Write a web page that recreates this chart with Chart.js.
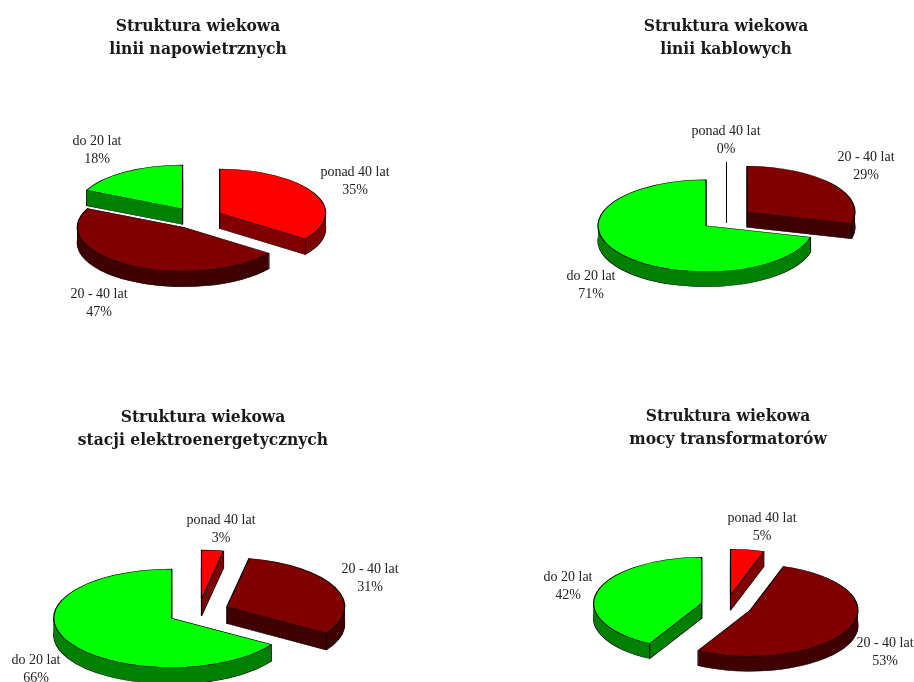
<!DOCTYPE html>
<html lang="pl">
<head>
<meta charset="utf-8">
<title>Struktura wiekowa</title>
<style>
html,body{margin:0;padding:0;background:#fff;width:914px;height:682px;overflow:hidden;position:relative}
canvas{position:absolute}
</style>
<script src="https://cdn.jsdelivr.net/npm/chart.js@4"></script>
</head>
<body>
<script>
// ---- data ----
const categories = ['ponad 40 lat', '20 - 40 lat', 'do 20 lat'];
const liniiNapowietrznych = [35, 47, 18];
const liniiKablowych = [0, 29, 71];
const stacjiElektro = [3, 31, 66];
const mocyTransformatorow = [5, 53, 42];
const title1 = ['Struktura wiekowa', 'linii napowietrznych'];
const title2 = ['Struktura wiekowa', 'linii kablowych'];
const title3 = ['Struktura wiekowa', 'stacji elektroenergetycznych'];
const title4 = ['Struktura wiekowa', 'mocy transformatorów'];

// ---- styles ----
const topColors = ['#FF0000', '#800000', '#00FF00'];
const wallColors = ['#800000', '#400000', '#008000'];
const TITLE_FONT = {family: '"DejaVu Serif Condensed","DejaVu Serif",serif', size: 17.3, weight: 'bold', lineHeight: 23 / 17.3};
const LABEL_FONT = '14px "Liberation Serif",serif';

// ---- layout (page pixels) ----
const panels = [
  {values: liniiNapowietrznych, title: title1, titleX: 198, titleY: 26, cx: 196.5, cy: 218, radius: 106, ratio: .415, explode: 26, depth: 15.5,
   labels: [[355, 172], [99, 294], [97, 141]]},
  {values: liniiKablowych, title: title2, titleX: 726, titleY: 26, cx: 726.5, cy: 219, radius: 108, ratio: .426, explode: 26, depth: 15,
   labels: [[726, 131], [866, 157], [591, 276]]},
  {values: stacjiElektro, title: title3, titleX: 203, titleY: 417, cx: 198.6, cy: 612, radius: 118, ratio: .417, explode: 30.7, depth: 16.7,
   labels: [[221, 520], [370, 569], [36, 660]]},
  {values: mocyTransformatorow, title: title4, titleX: 727.5, titleY: 416, cx: 726.5, cy: 606, radius: 108, ratio: .426, explode: 25.6, depth: 15,
   labels: [[762, 518], [885, 643], [568, 577]]}
];
const CANVAS_W = 470, CANVAS_H = 330, LINE_H = 18;

const pie3d = {
  id: 'pie3d',
  beforeDatasetsDraw(chart) {
    const p = chart.options.plugins.pie3d.panel;
    const ctx = chart.ctx;
    const arcs = chart.getDatasetMeta(0).data;
    const left = chart.canvas.offsetLeft, top = chart.canvas.offsetTop;
    const ax = arcs[0].x, ay = arcs[0].y;
    const sx = p.cx - left - ax, sy = p.cy - top - ay;
    const enter = (arc, d) => {
      const mid = (arc.startAngle + arc.endAngle) / 2;
      ctx.save();
      ctx.translate(sx + ax, sy + ay + d);
      ctx.scale(1, p.ratio);
      ctx.translate(-ax + Math.cos(mid) * p.explode, -ay + Math.sin(mid) * p.explode);
    };
    const paint = (arc, o) => {
      const el = Object.create(arc);
      el.options = Object.assign({}, arc.options, o);
      el.draw(ctx);
    };
    const point = (arc, angle, r) => {
      const mid = (arc.startAngle + arc.endAngle) / 2;
      return {
        x: sx + ax + Math.cos(mid) * p.explode + Math.cos(angle) * r,
        y: sy + ay + (Math.sin(mid) * p.explode + Math.sin(angle) * r) * p.ratio
      };
    };
    const vertical = a => {
      ctx.beginPath();
      ctx.moveTo(a.x, a.y);
      ctx.lineTo(a.x, a.y + p.depth);
      ctx.stroke();
    };
    // walls
    arcs.forEach((arc, i) => {
      if (arc.circumference === 0) return;
      enter(arc, p.depth);
      paint(arc, {backgroundColor: wallColors[i]});
      ctx.restore();
      for (let d = p.depth - .5; d > 0; d -= .5) {
        enter(arc, d);
        paint(arc, {backgroundColor: wallColors[i], borderWidth: 0});
        ctx.restore();
      }
      ctx.save();
      ctx.strokeStyle = '#000';
      ctx.lineWidth = 1;
      vertical(point(arc, arc.startAngle, arc.outerRadius));
      vertical(point(arc, arc.endAngle, arc.outerRadius));
      vertical(point(arc, arc.startAngle, 0));
      ctx.restore();
    });
    // tops
    arcs.forEach((arc, i) => {
      if (arc.circumference === 0) {
        // an empty slice shows only as its edge
        const a = point(arc, arc.startAngle, arc.outerRadius);
        const b = point(arc, arc.startAngle, 0);
        ctx.save();
        ctx.strokeStyle = '#000';
        ctx.lineWidth = 1;
        ctx.beginPath();
        ctx.moveTo(a.x, a.y);
        ctx.lineTo(b.x, b.y + p.depth);
        ctx.stroke();
        ctx.restore();
        return;
      }
      enter(arc, 0);
      paint(arc, {backgroundColor: topColors[i]});
      ctx.restore();
    });
    // labels
    ctx.save();
    ctx.font = LABEL_FONT;
    ctx.fillStyle = '#222';
    ctx.textAlign = 'center';
    ctx.textBaseline = 'middle';
    const total = p.values.reduce((s, v) => s + v, 0);
    p.labels.forEach((pos, i) => {
      ctx.fillText(categories[i], pos[0] - left, pos[1] - top);
      ctx.fillText(Math.round(p.values[i] / total * 100) + '%', pos[0] - left, pos[1] - top + LINE_H);
    });
    ctx.restore();
    return false;
  }
};

panels.forEach(p => {
  const c = document.createElement('canvas');
  const left = p.titleX - CANVAS_W / 2;
  const top = p.titleY - 11.5;
  c.style.left = left + 'px';
  c.style.top = top + 'px';
  c.style.width = CANVAS_W + 'px';
  c.style.height = CANVAS_H + 'px';
  c.width = CANVAS_W;
  c.height = CANVAS_H;
  document.body.appendChild(c);
  new Chart(c, {
    type: 'pie',
    data: {
      labels: categories,
      datasets: [{
        data: p.values,
        backgroundColor: topColors,
        borderColor: '#000',
        borderWidth: 1.2
      }]
    },
    plugins: [pie3d],
    options: {
      responsive: false,
      animation: false,
      radius: p.radius,
      layout: {padding: 0},
      events: [],
      plugins: {
        legend: {display: false},
        tooltip: {enabled: false},
        title: {display: true, text: p.title, color: '#1a1a1a', font: TITLE_FONT, padding: 0},
        pie3d: {panel: p}
      }
    }
  });
});
</script>
</body>
</html>
